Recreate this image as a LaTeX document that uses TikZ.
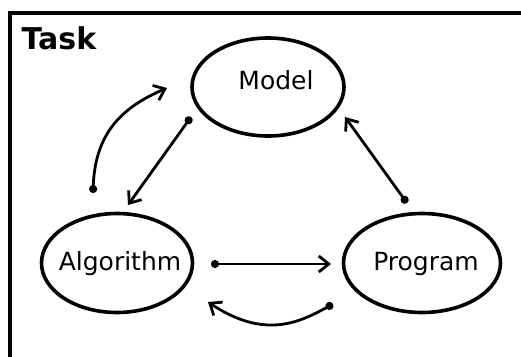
\documentclass[tikz,border=0pt]{standalone}
\usepackage{fontspec}
\setmainfont{DejaVu Sans}
\usetikzlibrary{shapes.geometric,arrows.meta}
\begin{document}
\begin{tikzpicture}[x=1pt,y=-1pt,
  stateoval/.style={draw,ellipse,line width=3.6pt,inner sep=0pt},
  oval text/.style={font=\fontsize{25}{30}\selectfont},
  conn/.style={line width=2.8pt,{Circle[length=8pt]}-{Straight Barb[length=10pt,width=16pt,line width=2.8pt]}},
  frameline/.style={line width=3.2pt}]
\useasboundingbox (0,0) rectangle (521,356);
\draw[frameline] (10,360) -- (10,13) -- (525,13);
\node[anchor=base west,font=\bfseries\fontsize{30}{36}\selectfont] (task) at (18,49) {Task};
\node[stateoval,minimum width=152pt,minimum height=98pt] (model) at (268,87) {};
\node[oval text] (modeltxt) at (276,80) {Model};
\node[stateoval,minimum width=151pt,minimum height=99pt] (alg) at (117,263) {};
\node[oval text] (algtxt) at (120,264) {Algorithm};
\node[stateoval,minimum width=157pt,minimum height=99pt] (prog) at (422,263) {};
\node[oval text] (progtxt) at (426,264) {Program};
\coordinate (a1) at (93,193);
\coordinate (a2) at (167,88);
\coordinate (b1) at (191,117);
\coordinate (b2) at (128,205);
\coordinate (c1) at (407,203);
\coordinate (c2) at (345,117);
\coordinate (d1) at (211,264);
\coordinate (d2) at (331,264);
\coordinate (e1) at (333,304);
\coordinate (e2) at (208,302);
\draw[conn] (a1) .. controls (95,135) and (120,108) .. (a2);
\draw[conn] (b1) -- (b2);
\draw[conn] (c1) -- (c2);
\draw[conn] (d1) -- (d2);
\draw[conn] (e1) .. controls (300,322) and (265,340) .. (e2);
\end{tikzpicture}
\end{document}
